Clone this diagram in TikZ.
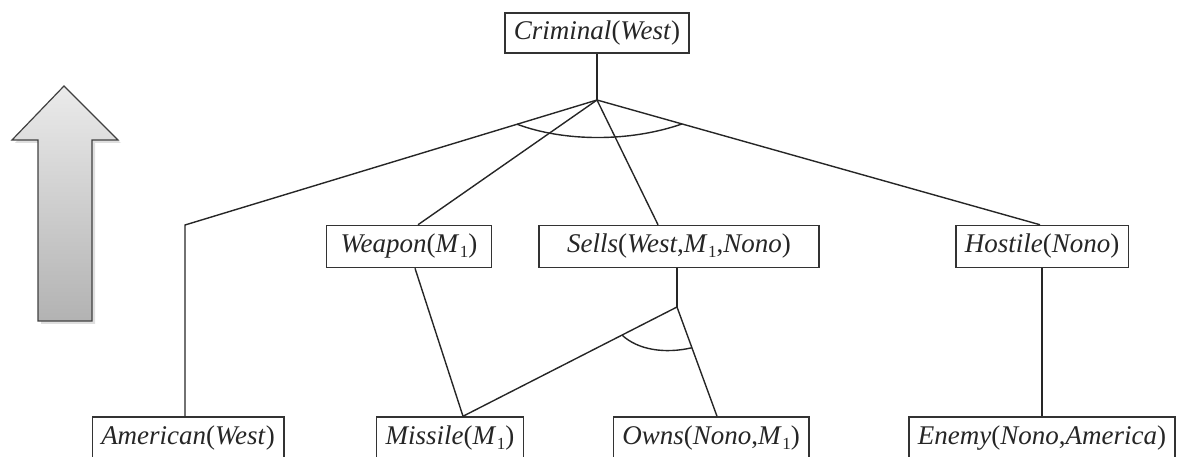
\documentclass[tikz,border=0pt]{standalone}
\usepackage{fontspec}
\setmainfont{Liberation Serif}
\usetikzlibrary{calc}
\newcommand{\Mone}{\textit{M}\kern0.5pt\raisebox{-0.4ex}{\fontsize{17}{17}\selectfont 1}}
\begin{document}
\begin{tikzpicture}[x=1pt,y=-1pt,
  box/.style={draw=black!80, line width=1.5pt, fill=white, inner xsep=9pt, inner ysep=0pt,
    minimum height=42pt, font=\fontsize{27}{32}\selectfont, text=black!85},
  conn/.style={draw=black!85, line width=1.4pt},
  bigarrow/.style={draw=black!75, line width=1.2pt, top color=black!8, bottom color=black!30},
]
\useasboundingbox (0,0) rectangle (1179,457);
\clip (0,0) rectangle (1179,457);

% upward arrow
\fill[black!25, opacity=0.5] (66,89) -- (121,143) -- (95,143) -- (95,324) -- (41,324) -- (41,143) -- (15,143) -- cycle;
\path[bigarrow] (64,86) -- (118,140) -- (92,140) -- (92,321) -- (38,321) -- (38,140) -- (12,140) -- cycle;

% nodes
\node[box, minimum height=40pt] (crim) at (597,33) {\textit{Criminal}(\textit{West})};
\node[box, minimum width=165pt] (weap) at (409,246.5) {\textit{Weapon}(\Mone)};
\node[box, minimum width=280pt] (sells) at (679,246.5) {\textit{Sells}(\textit{West},\Mone,\textit{Nono})};
\node[box] (host) at (1042,246.5) {\textit{Hostile}(\textit{Nono})};
\node[box] (amer) at (188,438) {\textit{American}(\textit{West})};
\node[box] (miss) at (450,438) {\textit{Missile}(\Mone)};
\node[box] (owns) at (711,438) {\textit{Owns}(\textit{Nono},\Mone)};
\node[box] (enemy) at (1042,438) {\textit{Enemy}(\textit{Nono},\textit{America})};

% junction points
\coordinate (j1) at (597,100);
\coordinate (ca) at (185,225);
\coordinate (j2) at (677,307);
\coordinate (wtop) at ([xshift=9pt]weap.north);
\coordinate (stop) at ([xshift=-21pt]sells.north);
\coordinate (htop) at ([xshift=-2pt]host.north);
\coordinate (mtop) at ([xshift=13pt]miss.north);
\coordinate (otop) at ([xshift=6pt]owns.north);

% connectors
\draw[conn] (crim.south) -- (j1);
\draw[conn] (j1) -- (ca) -- (ca |- amer.north);
\draw[conn] (j1) -- (wtop);
\draw[conn] (j1) -- (stop);
\draw[conn] (j1) -- (htop);
\draw[conn] ([xshift=6pt]weap.south) -- (mtop);
\draw[conn] (sells.south -| j2) -- (j2);
\draw[conn] (j2) -- (mtop);
\draw[conn] (j2) -- (otop);
\draw[conn] (host.south) -- (enemy.north);

% and-arcs
\draw[conn] ($(j1)!0.194!(ca)$) .. controls (565,142) and (630,142) .. ($(j1)!0.192!(htop)$);
\draw[conn] ($(j2)!0.257!(mtop)$) .. controls (638,350) and (665,354) .. ($(j2)!0.373!(otop)$);
\end{tikzpicture}
\end{document}
